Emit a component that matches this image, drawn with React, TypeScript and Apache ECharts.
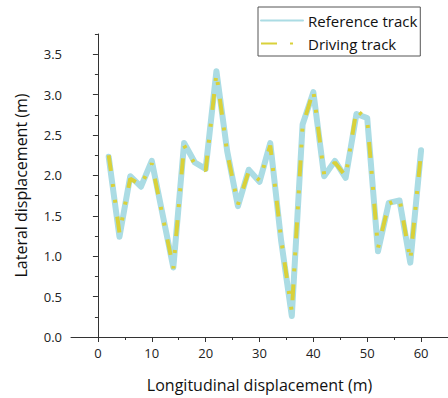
import React, { useEffect, useRef } from "react";
import * as echarts from "echarts";

const xValues = [2, 4, 6, 8, 10, 14, 16, 18, 20, 22, 24, 26, 28, 30, 32, 34, 36, 38, 40, 42, 44, 46, 48, 50, 52, 54, 56, 58, 60];
const referenceY = [2.23, 1.24, 1.99, 1.86, 2.18, 0.86, 2.4, 2.16, 2.08, 3.29, 2.3, 1.62, 2.07, 1.92, 2.4, 1.2, 0.26, 2.63, 3.03, 1.99, 2.18, 1.97, 2.76, 2.71, 1.06, 1.66, 1.69, 0.92, 2.31];
const drivingY = [2.25, 1.29, 1.96, 1.88, 2.15, 0.85, 2.37, 2.14, 2.06, 3.26, 2.28, 1.64, 2.05, 1.94, 2.37, 1.22, 0.31, 2.61, 3.05, 2.01, 2.16, 1.99, 2.81, 2.69, 1.1, 1.65, 1.71, 0.95, 2.29];
const xMajorTicks = [0, 10, 20, 30, 40, 50, 60];
const xMinorTicks = [5, 15, 25, 35, 45, 55, 65];
const yMinorTicks = [0.25, 0.75, 1.25, 1.75, 2.25, 2.75, 3.25, 3.75];
const seriesNames = ["Reference track", "Driving track"];

const FONT = "'Open Sans', 'Noto Sans', sans-serif";
const AXIS_COLOR = "#333";

export default function App() {
  const ref = useRef<HTMLDivElement>(null);
  useEffect(() => {
    if (!ref.current) return;
    const chart = echarts.init(ref.current, undefined, { renderer: "svg" });
    const refData = xValues.map((x, i) => [x, referenceY[i]]);
    const drvData = xValues.map((x, i) => [x, drivingY[i]]);
    chart.setOption({
      animation: false,
      textStyle: { fontFamily: FONT },
      grid: { left: 71, top: 34, right: -4, bottom: 55, containLabel: false },
      legend: {
        orient: "vertical",
        left: 258,
        top: 7,
        padding: [6, 3, 5, 2],
        itemGap: 8,
        itemWidth: 42,
        itemHeight: 14,
        borderColor: "#555",
        borderWidth: 1,
        itemStyle: { opacity: 0 },
        textStyle: { fontSize: 15, color: "#111", fontFamily: FONT },
        data: seriesNames,
      },
      xAxis: [
        {
          type: "value",
          min: -5,
          max: 65,
          name: "Longitudinal displacement (m)",
          nameLocation: "middle",
          nameGap: 40,
          nameTextStyle: { fontSize: 16, color: "#111", fontFamily: FONT },
          splitLine: { show: false },
          axisLine: { show: true, lineStyle: { color: AXIS_COLOR, width: 1 } },
          axisTick: { show: true, length: 5, customValues: xMajorTicks, lineStyle: { color: AXIS_COLOR } },
          axisLabel: { show: true, customValues: xMajorTicks, fontSize: 13, color: "#222", margin: 9, fontFamily: FONT },
        },
        {
          type: "value",
          min: -5,
          max: 65,
          position: "bottom",
          splitLine: { show: false },
          axisLine: { show: false },
          axisTick: { show: true, length: 3, customValues: xMinorTicks, lineStyle: { color: AXIS_COLOR } },
          axisLabel: { show: false },
        },
      ],
      yAxis: [
        {
          type: "value",
          min: 0,
          max: 3.75,
          interval: 0.5,
          name: "Lateral displacement (m)",
          nameLocation: "middle",
          nameGap: 42,
          nameTextStyle: { fontSize: 16, color: "#111", fontFamily: FONT },
          splitLine: { show: false },
          axisLine: { show: true, lineStyle: { color: AXIS_COLOR, width: 1 } },
          axisTick: { show: true, length: 5, lineStyle: { color: AXIS_COLOR } },
          axisLabel: {
            fontSize: 13,
            color: "#222",
            margin: 9,
            fontFamily: FONT,
            showMaxLabel: false,
            formatter: (v: number) => v.toFixed(1),
          },
        },
        {
          type: "value",
          min: 0,
          max: 3.75,
          position: "left",
          splitLine: { show: false },
          axisLine: { show: false },
          axisTick: { show: true, length: 3, customValues: yMinorTicks, lineStyle: { color: AXIS_COLOR } },
          axisLabel: { show: false },
        },
      ],
      series: [
        {
          name: seriesNames[0],
          type: "line",
          data: refData,
          symbol: "none",
          lineStyle: { color: "#abdce4", width: 6, cap: "round", join: "round" },
          itemStyle: { color: "#abdce4" },
          z: 2,
        },
        {
          name: seriesNames[1],
          type: "line",
          data: drvData,
          symbol: "none",
          lineStyle: { color: "#d9d13a", width: 4, type: [16, 13, 3, 13, 3, 14] },
          itemStyle: { color: "#d9d13a" },
          z: 3,
        },
      ],
    });
    return () => chart.dispose();
  }, []);
  return <div ref={ref} style={{ position: "absolute", left: 0, top: 0, width: 448, height: 398 }} />;
}
